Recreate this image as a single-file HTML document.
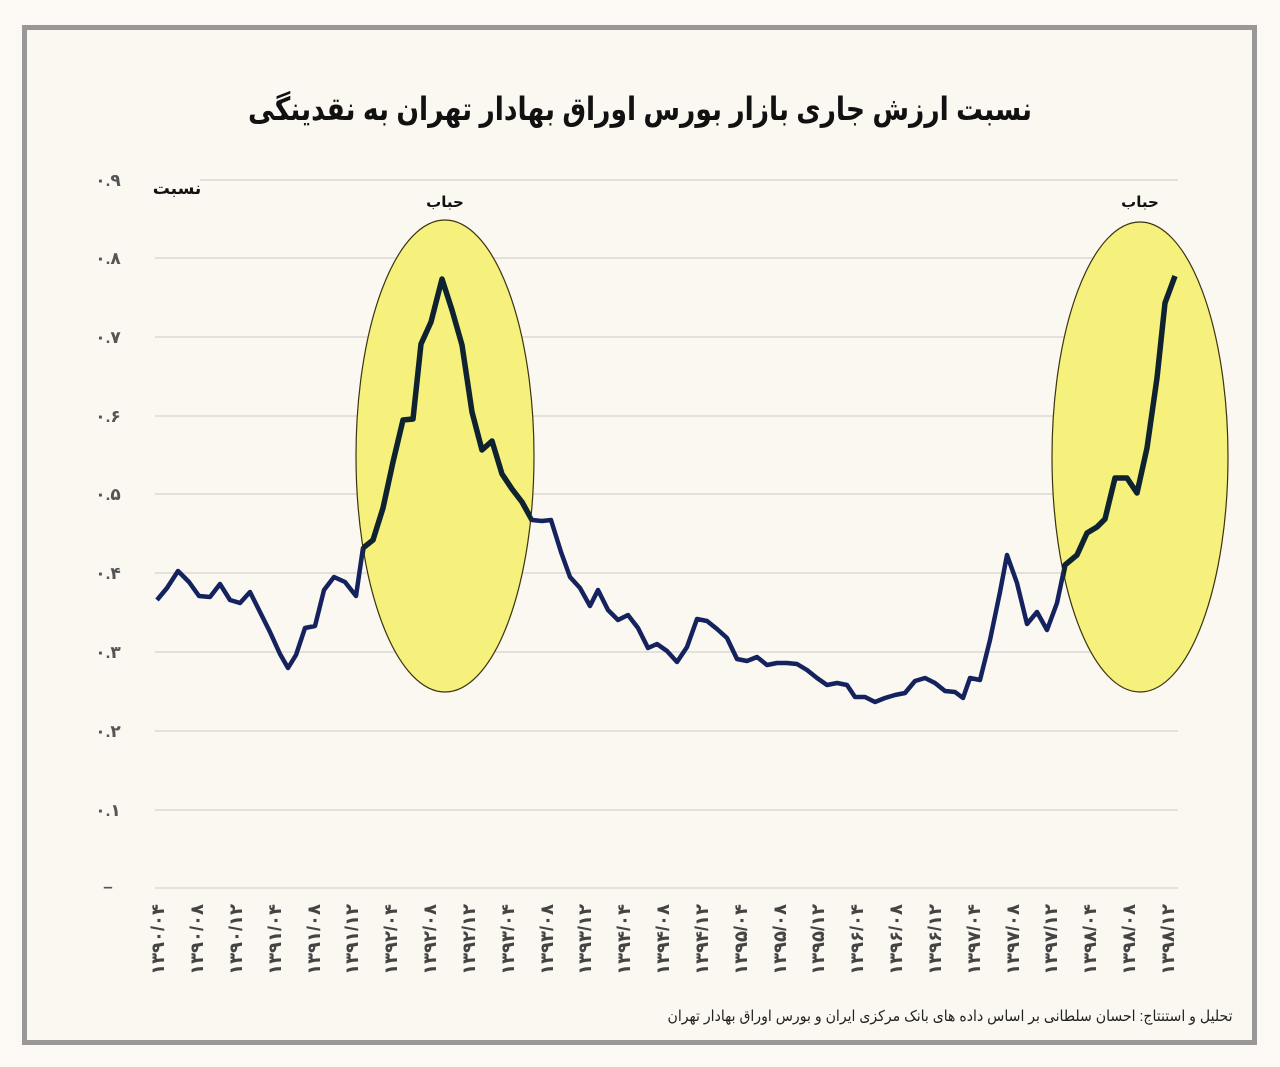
<!DOCTYPE html>
<html><head><meta charset="utf-8"><style>
html,body{margin:0;padding:0;background:#fcf8f3;}
svg{display:block;font-family:"Liberation Sans","DejaVu Sans",sans-serif;}
</style></head><body>
<svg width="1280" height="1067" viewBox="0 0 1280 1067" xmlns="http://www.w3.org/2000/svg">
<rect x="0" y="0" width="1280" height="1067" fill="#fcf8f3"/>
<rect x="24.5" y="27.5" width="1230" height="1015" fill="#fbf7f1" stroke="#9a9896" stroke-width="5"/>
<text x="640" y="120" text-anchor="middle" direction="rtl" font-size="32" font-weight="bold" fill="#111" textLength="784" lengthAdjust="spacingAndGlyphs">نسبت ارزش جاری بازار بورس اوراق بهادار تهران به نقدینگی</text>
<g stroke="#dcd8d2" stroke-width="1.5">
<line x1="200" y1="180" x2="1178" y2="180"/>
<line x1="155" y1="258" x2="1178" y2="258"/>
<line x1="155" y1="337" x2="1178" y2="337"/>
<line x1="155" y1="416" x2="1178" y2="416"/>
<line x1="155" y1="494" x2="1178" y2="494"/>
<line x1="155" y1="573" x2="1178" y2="573"/>
<line x1="155" y1="652" x2="1178" y2="652"/>
<line x1="155" y1="731" x2="1178" y2="731"/>
<line x1="155" y1="810" x2="1178" y2="810"/>
<line x1="155" y1="888" x2="1178" y2="888"/>
</g>
<g font-size="17" font-weight="bold" fill="#555" text-anchor="middle">
<text x="108" y="186">۰.۹</text><text x="108" y="264">۰.۸</text><text x="108" y="343">۰.۷</text>
<text x="108" y="422">۰.۶</text><text x="108" y="500">۰.۵</text><text x="108" y="579">۰.۴</text>
<text x="108" y="658">۰.۳</text><text x="108" y="737">۰.۲</text><text x="108" y="816">۰.۱</text>
<text x="108" y="892">–</text>
</g>
<text x="177" y="194" text-anchor="middle" font-size="17" font-weight="bold" fill="#111">نسبت</text>
<text x="445" y="207" text-anchor="middle" font-size="15" font-weight="bold" fill="#111">حباب</text>
<text x="1140" y="207" text-anchor="middle" font-size="15" font-weight="bold" fill="#111">حباب</text>
<defs>
<clipPath id="ec"><ellipse cx="445" cy="456" rx="89" ry="236"/><ellipse cx="1140" cy="457" rx="88" ry="235"/></clipPath>
</defs>
<polyline fill="none" stroke="#14235e" stroke-width="4.5" stroke-linejoin="round" points="157,600 167,588 178,571 189,582 199,596 210,597 220,584 230,600 240,603 250,592 260,612 270,632 280,654 288,668 296,655 305,628 315,626 324,590 334,577 345,582 356,596 363,548 373,540 383,508 393,462 403,420 413,419 421,344 431,322 442,279 452,310 462,345 472,412 482,450 492,441 502,474 512,489 522,502 532,520 542,521 551,520 561,552 570,577 580,588 590,606 598,590 608,610 618,620 628,615 638,628 648,648 657,644 667,651 677,662 687,647 697,619 707,621 717,629 727,638 737,659 747,661 757,657 767,665 777,663 787,663 797,664 807,670 817,678 827,685 837,683 847,685 855,697 865,697 875,702 885,698 895,695 905,693 915,681 925,678 935,683 945,691 955,692 963,698 970,678 980,680 990,640 1000,592 1007,555 1017,583 1027,624 1037,612 1047,630 1057,603 1065,565 1077,555 1087,533 1097,527 1105,519 1115,478 1127,478 1137,493 1147,448 1157,378 1165,303 1175,276"/>
<ellipse cx="445" cy="456" rx="89" ry="236" fill="#f6f07c" stroke="#3a3410" stroke-width="1.2"/>
<ellipse cx="1140" cy="457" rx="88" ry="235" fill="#f6f07c" stroke="#3a3410" stroke-width="1.2"/>
<polyline clip-path="url(#ec)" fill="none" stroke="#0e2230" stroke-width="5.5" stroke-linejoin="round" points="157,600 167,588 178,571 189,582 199,596 210,597 220,584 230,600 240,603 250,592 260,612 270,632 280,654 288,668 296,655 305,628 315,626 324,590 334,577 345,582 356,596 363,548 373,540 383,508 393,462 403,420 413,419 421,344 431,322 442,279 452,310 462,345 472,412 482,450 492,441 502,474 512,489 522,502 532,520 542,521 551,520 561,552 570,577 580,588 590,606 598,590 608,610 618,620 628,615 638,628 648,648 657,644 667,651 677,662 687,647 697,619 707,621 717,629 727,638 737,659 747,661 757,657 767,665 777,663 787,663 797,664 807,670 817,678 827,685 837,683 847,685 855,697 865,697 875,702 885,698 895,695 905,693 915,681 925,678 935,683 945,691 955,692 963,698 970,678 980,680 990,640 1000,592 1007,555 1017,583 1027,624 1037,612 1047,630 1057,603 1065,565 1077,555 1087,533 1097,527 1105,519 1115,478 1127,478 1137,493 1147,448 1157,378 1165,303 1175,276"/>
<g font-size="18" font-weight="bold" fill="#444" text-anchor="end">
<text transform="translate(164,904) rotate(-90)">۱۳۹۰/۰۴</text>
<text transform="translate(203,904) rotate(-90)">۱۳۹۰/۰۸</text>
<text transform="translate(242,904) rotate(-90)">۱۳۹۰/۱۲</text>
<text transform="translate(281,904) rotate(-90)">۱۳۹۱/۰۴</text>
<text transform="translate(320,904) rotate(-90)">۱۳۹۱/۰۸</text>
<text transform="translate(358,904) rotate(-90)">۱۳۹۱/۱۲</text>
<text transform="translate(397,904) rotate(-90)">۱۳۹۲/۰۴</text>
<text transform="translate(436,904) rotate(-90)">۱۳۹۲/۰۸</text>
<text transform="translate(475,904) rotate(-90)">۱۳۹۲/۱۲</text>
<text transform="translate(514,904) rotate(-90)">۱۳۹۳/۰۴</text>
<text transform="translate(553,904) rotate(-90)">۱۳۹۳/۰۸</text>
<text transform="translate(591,904) rotate(-90)">۱۳۹۳/۱۲</text>
<text transform="translate(630,904) rotate(-90)">۱۳۹۴/۰۴</text>
<text transform="translate(669,904) rotate(-90)">۱۳۹۴/۰۸</text>
<text transform="translate(708,904) rotate(-90)">۱۳۹۴/۱۲</text>
<text transform="translate(747,904) rotate(-90)">۱۳۹۵/۰۴</text>
<text transform="translate(786,904) rotate(-90)">۱۳۹۵/۰۸</text>
<text transform="translate(824,904) rotate(-90)">۱۳۹۵/۱۲</text>
<text transform="translate(863,904) rotate(-90)">۱۳۹۶/۰۴</text>
<text transform="translate(902,904) rotate(-90)">۱۳۹۶/۰۸</text>
<text transform="translate(941,904) rotate(-90)">۱۳۹۶/۱۲</text>
<text transform="translate(980,904) rotate(-90)">۱۳۹۷/۰۴</text>
<text transform="translate(1019,904) rotate(-90)">۱۳۹۷/۰۸</text>
<text transform="translate(1057,904) rotate(-90)">۱۳۹۷/۱۲</text>
<text transform="translate(1096,904) rotate(-90)">۱۳۹۸/۰۴</text>
<text transform="translate(1135,904) rotate(-90)">۱۳۹۸/۰۸</text>
<text transform="translate(1174,904) rotate(-90)">۱۳۹۸/۱۲</text>
</g>
<text x="950" y="1021" text-anchor="middle" direction="rtl" font-size="15" fill="#222" textLength="565" lengthAdjust="spacingAndGlyphs">تحلیل و استنتاج: احسان سلطانی بر اساس داده های بانک مرکزی ایران و بورس اوراق بهادار تهران</text>
</svg>
</body></html>
